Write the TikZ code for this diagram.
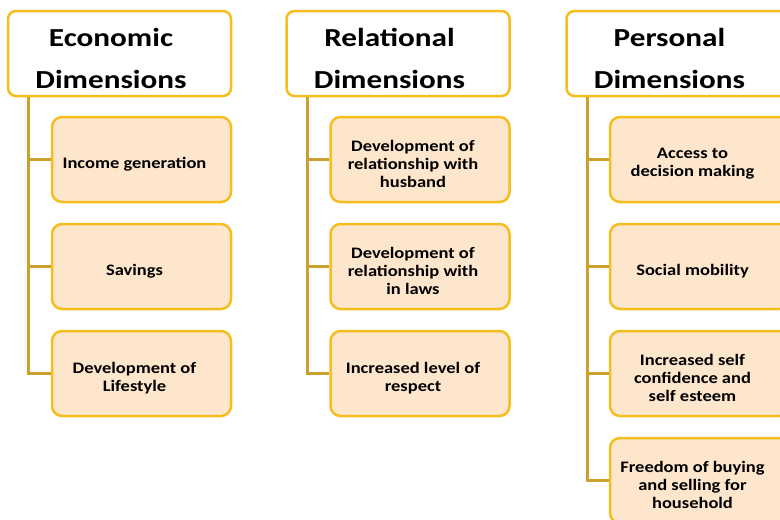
\documentclass[tikz,border=0pt]{standalone}
\usepackage{fontspec}
\setmainfont{Carlito}[FakeStretch=1.155]
\newfontfamily\headfont{Carlito}[FakeStretch=1.2]
\usepackage{tikz}

\definecolor{boxgold}{HTML}{F5BE1E}
\definecolor{linegold}{HTML}{CCA02C}
\definecolor{peach}{HTML}{FDE6CC}

\begin{document}
\begin{tikzpicture}[x=1pt, y=-1pt,
        head/.style = {draw=boxgold, line width=2.5pt, fill=white, rounded corners=8pt,
                minimum width=223pt, minimum height=85pt, inner sep=0pt},
        headtext/.style = {align=center, xshift=-8.5pt, yshift=-4.5pt,
                font=\headfont\bfseries\fontsize{26}{42}\selectfont},
        item/.style = {draw=boxgold, line width=2.5pt, fill=peach, rounded corners=10pt,
                minimum width=179pt, minimum height=85pt, inner sep=0pt},
        itemtext/.style = {align=center, xshift=-7pt, yshift=-4.5pt, inner sep=0pt,
                font=\bfseries\fontsize{16}{18}\selectfont},
        trunk/.style = {draw=linegold, line width=3pt}]
        \useasboundingbox (0, 0) rectangle (780, 520);
        \clip (0, 0) rectangle (780, 520);

        \node[head, label={[headtext]center:Economic\\Dimensions}] (econ) at (119.5, 53.5) {};
        \node[head, label={[headtext]center:Relational\\Dimensions}] (rel) at (398, 53.5) {};
        \node[head, label={[headtext]center:Personal\\Dimensions}] (pers) at (678, 53.5) {};

        \node[item, label={[itemtext]center:Income generation}] (e1) at (141.5, 159.5) {};
        \node[item, label={[itemtext]center:Savings}] (e2) at (141.5, 266.5) {};
        \node[item, label={[itemtext]center:Development of\\Lifestyle}] (e3) at (141.5, 373.5) {};

        \node[item, label={[itemtext]center:Development of\\relationship with\\husband}] (r1) at (420, 159.5) {};
        \node[item, label={[itemtext]center:Development of\\relationship with\\in laws}] (r2) at (420, 266.5) {};
        \node[item, label={[itemtext]center:Increased level of\\respect}] (r3) at (420, 373.5) {};

        \node[item, label={[itemtext]center:Access to\\decision making}] (p1) at (699.5, 159.5) {};
        \node[item, label={[itemtext]center:Social mobility}] (p2) at (699.5, 266.5) {};
        \node[item, label={[itemtext]center:Increased self\\confidence and\\self esteem}] (p3) at (699.5, 373.5) {};
        \node[item, label={[itemtext]center:Freedom of buying\\and selling for\\household}] (p4) at (699.5, 480.5) {};

        \draw[trunk] ([xshift=22pt]econ.south west) |- (e3.west);
        \draw[trunk] (e1.west) -- ++(-22, 0);
        \draw[trunk] (e2.west) -- ++(-22, 0);
        \draw[trunk] ([xshift=22pt]rel.south west) |- (r3.west);
        \draw[trunk] (r1.west) -- ++(-22, 0);
        \draw[trunk] (r2.west) -- ++(-22, 0);
        \draw[trunk] ([xshift=22pt]pers.south west) |- (p4.west);
        \draw[trunk] (p1.west) -- ++(-22, 0);
        \draw[trunk] (p2.west) -- ++(-22, 0);
        \draw[trunk] (p3.west) -- ++(-22, 0);
\end{tikzpicture}
\end{document}
